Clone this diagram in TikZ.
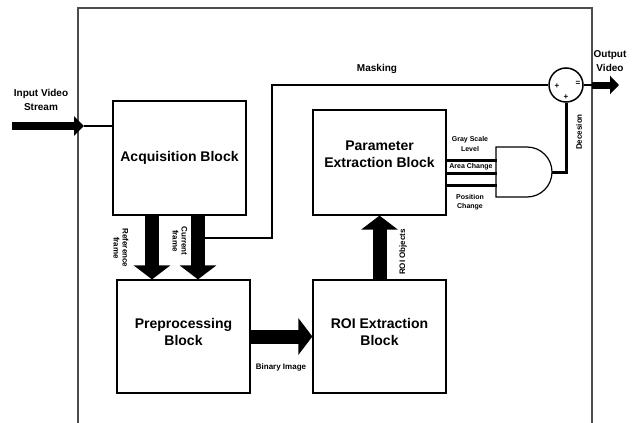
\documentclass[tikz,border=0pt]{standalone}
\usepackage{fontspec}
\setmainfont{Liberation Sans}
\usetikzlibrary{arrows.meta}

\begin{document}
\begin{tikzpicture}[x=1pt,y=-1pt]
\tikzstyle{box}=[draw, line width=1.2pt, minimum width=133pt]
\tikzstyle{title}=[font=\fontsize{14}{17}\selectfont\bfseries, align=center]
\tikzstyle{big}=[font=\fontsize{10}{14}\selectfont\bfseries, align=center]
\tikzstyle{tag}=[font=\fontsize{8}{9}\selectfont\bfseries, align=center]
\tikzstyle{tiny}=[font=\fontsize{7}{9.5}\selectfont\bfseries, align=center]
\tikzstyle{wire}=[line width=1.5pt]
\tikzstyle{bus}=[line width=3pt]
\tikzstyle{fatarrow}=[line width=14pt, -{Triangle[width=36pt,length=14pt]}]
\tikzstyle{slimarrow}=[line width=8pt, -{Triangle[width=19pt,length=10pt]}]

\useasboundingbox (0,0) rectangle (632,423);
\draw[line width=1.5pt, black!70] (78,423) -- (78,8) -- (592,8) -- (592,423);

\node[box, title, minimum height=114pt] (acq) at (179.5,158) {Acquisition Block};
\node[box, minimum height=105pt, label={[title, yshift=8pt]center:Parameter\\Extraction Block}] (param) at (379.5,162.5) {};
\node[box, minimum height=113pt, label={[title, yshift=5pt]center:Preprocessing\\Block}] (pre) at (183.5,336.5) {};
\node[box, minimum height=113pt, label={[title, yshift=5pt]center:ROI Extraction\\Block}] (roi) at (379.5,336.5) {};

\node[big] (intext) at (41,100) {Input Video\\Stream};
\coordinate (in) at (12,126);
\coordinate (inend) at (84,126);
\draw[slimarrow] (in) -- (inend);
\draw[wire] (inend) -- (inend -| acq.west);

\coordinate (ref) at (152,215);
\coordinate (cur) at (198,215);
\draw[fatarrow] (ref) -- (ref |- pre.north);
\draw[fatarrow] (cur) -- (cur |- pre.north);
\node[tag, rotate=-90] at (121,248) {Reference\\frame};
\node[tag, rotate=-90] at (180,241) {Current\\frame};

\draw[fatarrow] (pre.east) -- (roi.west);
\node[tag] at (281,367) {Binary Image};
\draw[fatarrow] (roi.north) -- (param.south);
\node[tag, rotate=90] at (403,252) {ROI Objects};

\node[circle, draw, wire, minimum size=34pt, inner sep=0pt] (sum) at (566,85) {};
\node[tag] at (557,86) {+};
\node[tag] at (566,97) {+};
\node[tag] at (578,83) {=};
\coordinate (mk) at (205,238);
\coordinate (bend) at (272,85);
\draw[wire] (mk) -| (bend) -- (sum.west);
\node[big] at (377,69) {Masking};

\coordinate (out) at (592,85);
\draw[wire] (sum.east) -- (out);
\draw[line width=7pt, -{Triangle[width=18pt,length=9pt]}] (out) -- ++(27,0);
\node[big] at (610,61) {Output\\Video};

\draw[line width=1.2pt] (496,147) -- (527,147) arc (-90:90:25) -- (496,197) -- cycle;
\foreach \d in {2.5,-10.5,-22.5}
  \draw[bus] ([yshift=\d pt]param.east) -- ++(50,0);
\node[tiny] at (470,144) {Gray Scale\\Level};
\node[tiny] at (471,167) {Area Change};
\node[tiny] at (470,202) {Position\\Change};
\coordinate (gout) at (552,172);
\draw[bus] (gout) -| (sum.south);
\node[tag, rotate=90] at (579,132) {Decesion};
\end{tikzpicture}
\end{document}
